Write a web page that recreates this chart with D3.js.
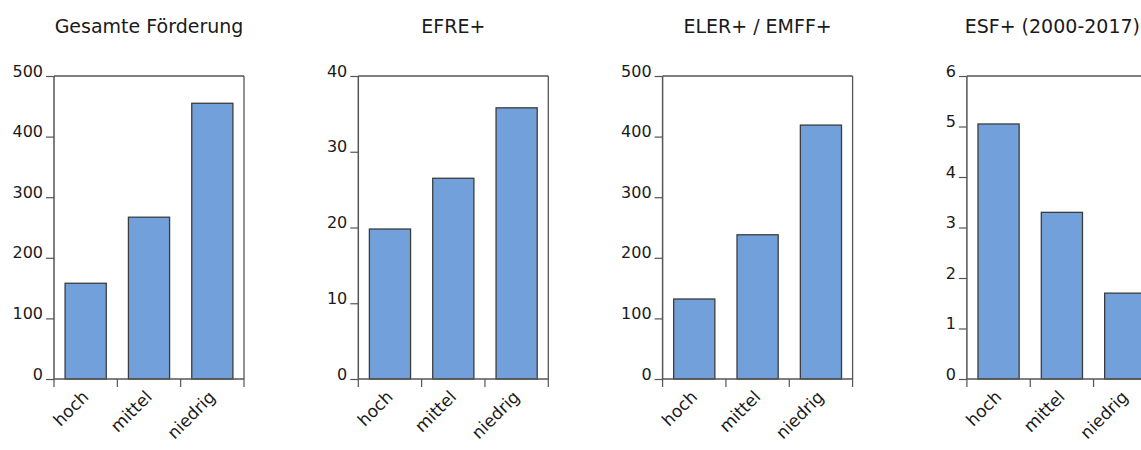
<!DOCTYPE html>
<html>
<head>
<meta charset="utf-8">
<script src="https://d3js.org/d3.v7.min.js"></script>
<style>
  html, body { margin: 0; padding: 0; background: #fff; }
  svg { display: block; }
  text { font-family: "DejaVu Sans", sans-serif; fill: #1a1a1a; }
</style>
</head>
<body>
<script>
// ---- data ----
const categories = ["hoch", "mittel", "niedrig"];
const panelTitles = ["Gesamte Förderung", "EFRE+", "ELER+ / EMFF+", "ESF+ (2000-2017)"];
const gesamtValues = [158, 267, 455];
const efreValues = [19.8, 26.5, 35.8];
const elerValues = [132, 238, 419];
const esfValues = [5.05, 3.3, 1.7];
const gesamtTicks = [0, 100, 200, 300, 400, 500];
const efreTicks = [0, 10, 20, 30, 40];
const elerTicks = [0, 100, 200, 300, 400, 500];
const esfTicks = [0, 1, 2, 3, 4, 5, 6];

const panels = [
  { title: panelTitles[0], values: gesamtValues, ticks: gesamtTicks },
  { title: panelTitles[1], values: efreValues, ticks: efreTicks },
  { title: panelTitles[2], values: elerValues, ticks: elerTicks },
  { title: panelTitles[3], values: esfValues, ticks: esfTicks }
];

const W = 1141, H = 450;
const svg = d3.select("body").append("svg").attr("width", W).attr("height", H);

const plotW = 190, plotTop = 76, plotBottom = 379, firstX = 54, gap = 304.3;
const frameColor = "#555";

panels.forEach((p, i) => {
  const x0 = firstX + i * gap;
  const g = svg.append("g");
  const x = d3.scaleBand().domain(categories).range([x0, x0 + plotW])
    .paddingInner(0.35).paddingOuter(0.175);
  const y = d3.scaleLinear().domain([0, d3.max(p.ticks)]).range([plotBottom, plotTop]);

  // title (kept inside the picture)
  const t = g.append("text").attr("x", x0 + plotW / 2).attr("y", 33)
    .attr("text-anchor", "middle").style("font-size", "19px").text(p.title);
  const tw = t.node().getComputedTextLength();
  if (x0 + plotW / 2 + tw / 2 > W - 1) t.attr("x", W - 1 - tw / 2);

  // frame (top and right)
  g.append("line").attr("x1", x0).attr("x2", x0 + plotW).attr("y1", plotTop).attr("y2", plotTop)
    .attr("stroke", frameColor).attr("stroke-width", 1.3);
  g.append("line").attr("x1", x0 + plotW).attr("x2", x0 + plotW).attr("y1", plotTop).attr("y2", plotBottom)
    .attr("stroke", frameColor).attr("stroke-width", 1.3);

  // bars
  g.selectAll("rect.bar").data(categories).enter().append("rect")
    .attr("class", "bar")
    .attr("x", c => x(c))
    .attr("width", x.bandwidth())
    .attr("y", (c, j) => y(p.values[j]))
    .attr("height", (c, j) => y(0) - y(p.values[j]))
    .attr("fill", "#72a0db")
    .attr("stroke", "#3c3c3c")
    .attr("stroke-width", 1.3);

  // y axis
  const yAxis = d3.axisLeft(y).tickValues(p.ticks).tickSize(8).tickPadding(3).tickFormat(d3.format("d"));
  const ya = g.append("g").attr("transform", `translate(${x0},0)`).call(yAxis);
  ya.select(".domain").attr("stroke", frameColor).attr("stroke-width", 1.5).attr("d", `M0,${plotTop}V${plotBottom}`);
  ya.selectAll(".tick line").attr("stroke", frameColor).attr("stroke-width", 1.2);
  ya.selectAll(".tick text").style("font-size", "16px").style("font-family", "DejaVu Sans")
    .attr("fill", "#1a1a1a").attr("dy", "0em");

  // x axis: line plus ticks at band boundaries
  g.append("line").attr("x1", x0).attr("x2", x0 + plotW).attr("y1", plotBottom).attr("y2", plotBottom)
    .attr("stroke", frameColor).attr("stroke-width", 1.5);
  const step = x.step();
  const bounds = categories.map(c => x(c) - (step - x.bandwidth()) / 2).concat([x0 + plotW]);
  g.selectAll("line.xt").data(bounds).enter().append("line")
    .attr("class", "xt")
    .attr("x1", d => d).attr("x2", d => d).attr("y1", plotBottom).attr("y2", plotBottom + 8)
    .attr("stroke", frameColor).attr("stroke-width", 1.2);

  g.selectAll("text.xl").data(categories).enter().append("text")
    .attr("class", "xl")
    .attr("transform", c => `translate(${x(c) + x.bandwidth() / 2 + 4},${plotBottom + 19}) rotate(-45)`)
    .attr("text-anchor", "end")
    .style("font-size", "17px")
    .text(c => c);
});
</script>
</body>
</html>
